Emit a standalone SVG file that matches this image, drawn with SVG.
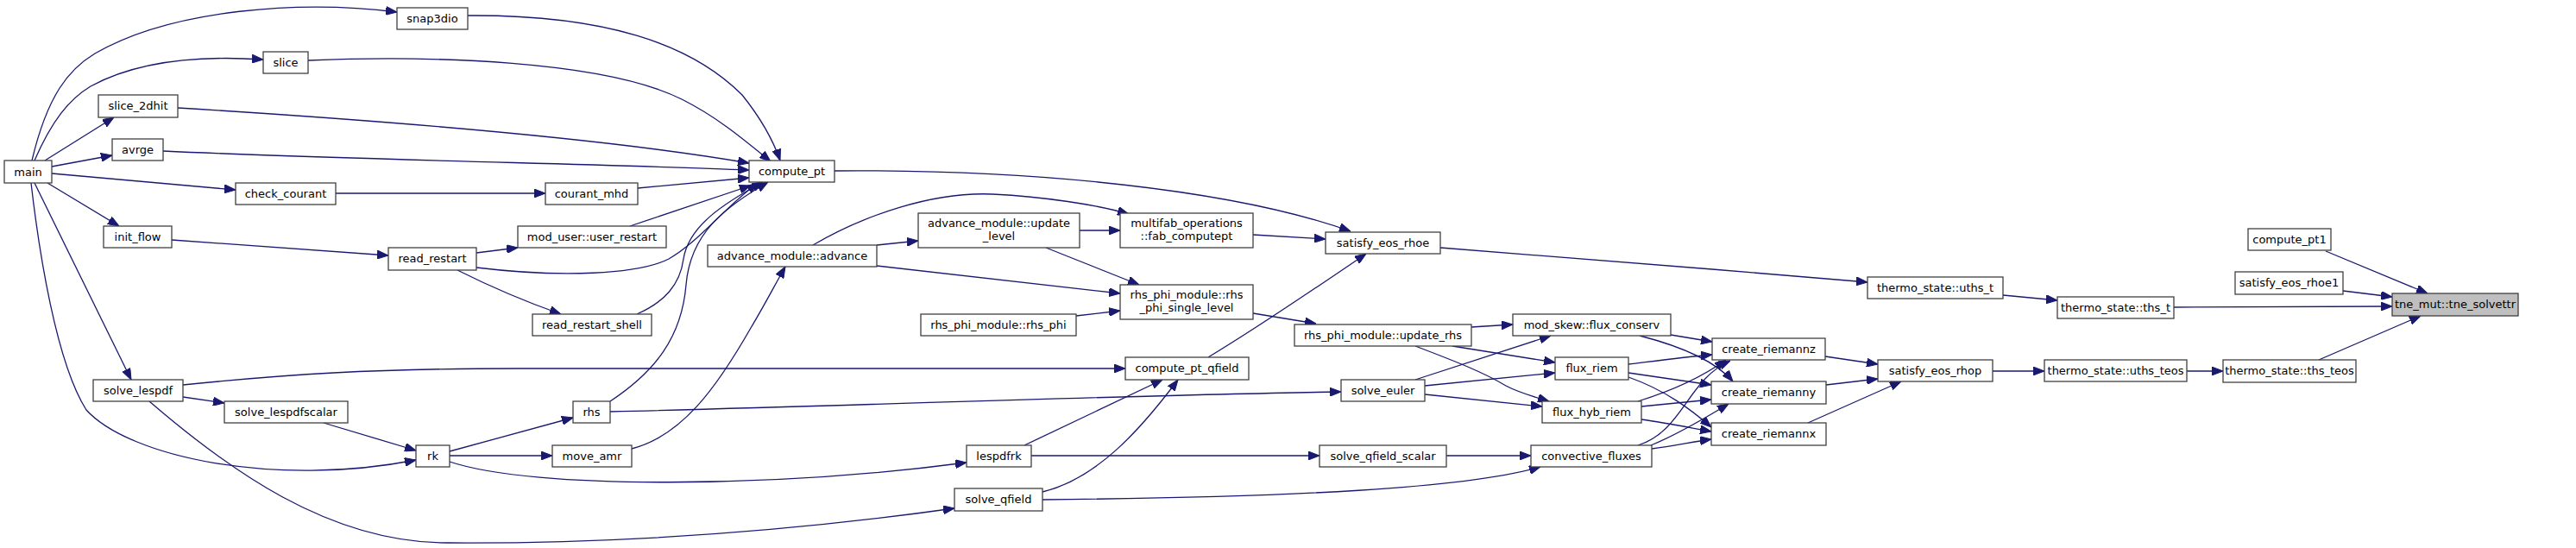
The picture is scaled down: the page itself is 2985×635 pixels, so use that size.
<svg xmlns="http://www.w3.org/2000/svg" width="2985" height="635" viewBox="0 0 2985 635">
<style>
.node rect{fill:#ffffff;stroke:#404040;stroke-width:1.3}
.node.hl rect{fill:#bfbfbf}
.node text{font-family:"DejaVu Sans","Liberation Sans",sans-serif;font-size:13px;fill:#000000;text-anchor:middle}
.edges path{fill:none;stroke:#191970;stroke-width:1.3;marker-end:url(#arr)}
</style>
<defs>
<marker id="arr" viewBox="0 0 13 10" markerWidth="13" markerHeight="10" refX="13" refY="5" orient="auto" markerUnits="userSpaceOnUse">
<path d="M0,0 L13,5 L0,10 z" fill="#191970" stroke="#191970" stroke-width="1"/>
</marker>
</defs>
<rect x="0" y="0" width="2985" height="635" fill="#ffffff"/>
<g id="edges" class="edges">
<path d="M2695,291 L2813,340"/>
<path d="M2715,337 L2772,344"/>
<path d="M2519,356 L2772,355"/>
<path d="M2687,417 L2805,366"/>
<path d="M2321,342 L2384,348"/>
<path d="M2534,430 L2576,430"/>
<path d="M1669,287 C1800,297 2000,313 2164,327"/>
<path d="M2309,430 L2369,430"/>
<path d="M2115,413 L2176,422"/>
<path d="M2116,446 L2176,439"/>
<path d="M2095,490 L2203,442"/>
<path d="M1936,388 L1984,396"/>
<path d="M1900,389 C1935,398 1985,415 2008,442"/>
<path d="M1887,422 C1920,418 1950,414 1984,411"/>
<path d="M1887,432 C1920,437 1950,441 1983,446"/>
<path d="M1887,437 C1930,452 1960,475 1983,495"/>
<path d="M1898,465 C1940,452 1975,435 2000,417"/>
<path d="M1902,471 C1930,468 1955,466 1983,463"/>
<path d="M1902,486 C1930,490 1955,495 1983,500"/>
<path d="M1898,516 C1950,500 1955,440 2005,418"/>
<path d="M1913,516 C1940,505 1975,485 2003,468"/>
<path d="M1914,520 C1940,517 1960,512 1983,509"/>
<path d="M1705,379 L1753,376"/>
<path d="M1683,401 L1802,420"/>
<path d="M1640,401 C1690,420 1720,432 1745,447 C1760,455 1775,459 1795,465"/>
<path d="M1640,440 L1797,389"/>
<path d="M1651,447 L1802,432"/>
<path d="M1651,457 L1787,471"/>
<path d="M1676,528 L1774,528"/>
<path d="M1208,579 C1500,576 1700,566 1785,541"/>
<path d="M707,477 C1000,470 1300,458 1554,454"/>
<path d="M1452,363 L1525,375"/>
<path d="M1400,414 C1460,378 1530,330 1583,294"/>
<path d="M1452,272 L1536,277"/>
<path d="M967,198 C1200,196 1430,220 1565,268"/>
<path d="M1187,516 L1347,440"/>
<path d="M1208,570 C1270,555 1320,500 1365,440"/>
<path d="M1195,528 L1529,528"/>
<path d="M212,446 C330,434 430,427 600,427 L1304,427"/>
<path d="M521,535 C620,568 900,565 1120,536"/>
<path d="M173,465 C260,540 380,630 520,629 C700,630 900,618 1106,589"/>
<path d="M521,523 L664,484"/>
<path d="M521,528 L640,528"/>
<path d="M732,520 C790,505 830,450 870,380 C885,355 898,330 910,309"/>
<path d="M707,465 C760,430 790,390 795,330 C800,270 840,240 890,211"/>
<path d="M738,364 C770,350 788,330 792,300 C798,262 838,236 884,211"/>
<path d="M552,310 C650,322 740,318 775,300 C810,280 840,240 878,212"/>
<path d="M730,262 L870,215"/>
<path d="M739,218 L868,206"/>
<path d="M389,224 L632,224"/>
<path d="M552,293 L600,287"/>
<path d="M530,313 C570,333 610,350 650,364"/>
<path d="M199,278 L450,296"/>
<path d="M189,175 C400,185 700,190 868,197"/>
<path d="M206,125 C450,140 700,160 868,189"/>
<path d="M357,70 C500,64 700,70 790,115 C830,135 860,160 893,187"/>
<path d="M542,18 C700,17 800,50 860,110 C880,135 895,160 904,186"/>
<path d="M37,186 C55,110 80,80 110,62 C200,10 350,0 460,14"/>
<path d="M40,186 C60,140 80,115 105,100 C160,70 230,64 305,69"/>
<path d="M52,186 L132,136"/>
<path d="M60,193 L130,180"/>
<path d="M60,201 L273,220"/>
<path d="M55,212 L138,262"/>
<path d="M40,212 L152,440"/>
<path d="M36,212 C45,290 65,420 100,475 C150,530 320,565 482,533"/>
<path d="M212,460 L260,467"/>
<path d="M375,490 L482,522"/>
<path d="M1016,284 L1064,279"/>
<path d="M1016,308 L1298,340"/>
<path d="M942,284 C1000,250 1080,222 1150,225 C1210,228 1270,237 1308,248"/>
<path d="M1251,267 L1298,267"/>
<path d="M1212,287 L1320,330"/>
<path d="M1247,366 L1298,360"/>
</g>
<g id="n_main" class="node"><rect x="5" y="186" width="55" height="26"/><text x="32.5" y="203.5">main</text></g>
<g id="n_snap3dio" class="node"><rect x="460" y="9" width="82" height="25"/><text x="501" y="26">snap3dio</text></g>
<g id="n_slice" class="node"><rect x="305" y="60" width="52" height="25"/><text x="331" y="77">slice</text></g>
<g id="n_slice_2dhit" class="node"><rect x="114" y="110" width="92" height="26"/><text x="160" y="127">slice_2dhit</text></g>
<g id="n_avrge" class="node"><rect x="130" y="161" width="59" height="25"/><text x="159.5" y="178">avrge</text></g>
<g id="n_check_courant" class="node"><rect x="273" y="212" width="116" height="25"/><text x="331" y="229">check_courant</text></g>
<g id="n_init_flow" class="node"><rect x="120" y="262" width="79" height="25"/><text x="159.5" y="279">init_flow</text></g>
<g id="n_solve_lespdf" class="node"><rect x="108" y="440" width="104" height="25"/><text x="160" y="457">solve_lespdf</text></g>
<g id="n_solve_lespdfscalar" class="node"><rect x="260" y="465" width="143" height="25"/><text x="331.5" y="482">solve_lespdfscalar</text></g>
<g id="n_rk" class="node"><rect x="482" y="516" width="39" height="25"/><text x="501.5" y="533">rk</text></g>
<g id="n_read_restart" class="node"><rect x="450" y="287" width="102" height="26"/><text x="501" y="304">read_restart</text></g>
<g id="n_courant_mhd" class="node"><rect x="632" y="212" width="107" height="25"/><text x="685.5" y="229">courant_mhd</text></g>
<g id="n_user_restart" class="node"><rect x="600" y="262" width="172" height="25"/><text x="686" y="279">mod_user::user_restart</text></g>
<g id="n_read_restart_shell" class="node"><rect x="617" y="364" width="138" height="25"/><text x="686" y="381">read_restart_shell</text></g>
<g id="n_rhs" class="node"><rect x="664" y="465" width="43" height="25"/><text x="685.5" y="482">rhs</text></g>
<g id="n_move_amr" class="node"><rect x="640" y="516" width="92" height="25"/><text x="686" y="533">move_amr</text></g>
<g id="n_compute_pt" class="node"><rect x="868" y="186" width="99" height="25"/><text x="917.5" y="203">compute_pt</text></g>
<g id="n_advance" class="node"><rect x="820" y="284" width="196" height="25"/><text x="918" y="301">advance_module::advance</text></g>
<g id="n_update_level" class="node"><rect x="1064" y="247" width="187" height="40"/><text x="1157.5" y="263">advance_module::update</text><text x="1157.5" y="278">_level</text></g>
<g id="n_fab_computept" class="node"><rect x="1298" y="247" width="154" height="40"/><text x="1375" y="263">multifab_operations</text><text x="1375" y="278">::fab_computept</text></g>
<g id="n_rhs_phi_single_level" class="node"><rect x="1298" y="330" width="154" height="40"/><text x="1375" y="346">rhs_phi_module::rhs</text><text x="1375" y="361">_phi_single_level</text></g>
<g id="n_rhs_phi" class="node"><rect x="1067" y="364" width="180" height="25"/><text x="1157" y="381">rhs_phi_module::rhs_phi</text></g>
<g id="n_compute_pt_qfield" class="node"><rect x="1304" y="414" width="143" height="26"/><text x="1375.5" y="431">compute_pt_qfield</text></g>
<g id="n_lespdfrk" class="node"><rect x="1120" y="516" width="75" height="25"/><text x="1157.5" y="533">lespdfrk</text></g>
<g id="n_solve_qfield" class="node"><rect x="1106" y="566" width="102" height="26"/><text x="1157" y="583">solve_qfield</text></g>
<g id="n_satisfy_eos_rhoe" class="node"><rect x="1536" y="269" width="133" height="25"/><text x="1602.5" y="286">satisfy_eos_rhoe</text></g>
<g id="n_update_rhs" class="node"><rect x="1500" y="376" width="205" height="25"/><text x="1602.5" y="393">rhs_phi_module::update_rhs</text></g>
<g id="n_solve_euler" class="node"><rect x="1554" y="440" width="97" height="25"/><text x="1602.5" y="457">solve_euler</text></g>
<g id="n_solve_qfield_scalar" class="node"><rect x="1529" y="516" width="147" height="25"/><text x="1602.5" y="533">solve_qfield_scalar</text></g>
<g id="n_flux_conserv" class="node"><rect x="1753" y="364" width="183" height="25"/><text x="1844.5" y="381">mod_skew::flux_conserv</text></g>
<g id="n_flux_riem" class="node"><rect x="1802" y="414" width="85" height="26"/><text x="1844.5" y="431">flux_riem</text></g>
<g id="n_flux_hyb_riem" class="node"><rect x="1787" y="465" width="115" height="25"/><text x="1844.5" y="482">flux_hyb_riem</text></g>
<g id="n_convective_fluxes" class="node"><rect x="1774" y="516" width="140" height="25"/><text x="1844" y="533">convective_fluxes</text></g>
<g id="n_create_riemannz" class="node"><rect x="1984" y="392" width="131" height="25"/><text x="2049.5" y="409">create_riemannz</text></g>
<g id="n_create_riemanny" class="node"><rect x="1983" y="442" width="133" height="26"/><text x="2049.5" y="459">create_riemanny</text></g>
<g id="n_create_riemannx" class="node"><rect x="1983" y="490" width="133" height="26"/><text x="2049.5" y="507">create_riemannx</text></g>
<g id="n_uths_t" class="node"><rect x="2164" y="321" width="157" height="25"/><text x="2242.5" y="338">thermo_state::uths_t</text></g>
<g id="n_satisfy_eos_rhop" class="node"><rect x="2176" y="417" width="133" height="25"/><text x="2242.5" y="434">satisfy_eos_rhop</text></g>
<g id="n_ths_t" class="node"><rect x="2384" y="344" width="135" height="25"/><text x="2451.5" y="361">thermo_state::ths_t</text></g>
<g id="n_uths_teos" class="node"><rect x="2369" y="417" width="165" height="25"/><text x="2451.5" y="434">thermo_state::uths_teos</text></g>
<g id="n_compute_pt1" class="node"><rect x="2605" y="265" width="96" height="25"/><text x="2653" y="282">compute_pt1</text></g>
<g id="n_satisfy_eos_rhoe1" class="node"><rect x="2590" y="315" width="125" height="26"/><text x="2652.5" y="332">satisfy_eos_rhoe1</text></g>
<g id="n_ths_teos" class="node"><rect x="2576" y="417" width="154" height="26"/><text x="2653" y="434">thermo_state::ths_teos</text></g>
<g id="n_tne_solvettr" class="node hl"><rect x="2772" y="340" width="146" height="26"/><text x="2845" y="357">tne_mut::tne_solvettr</text></g>
</svg>
